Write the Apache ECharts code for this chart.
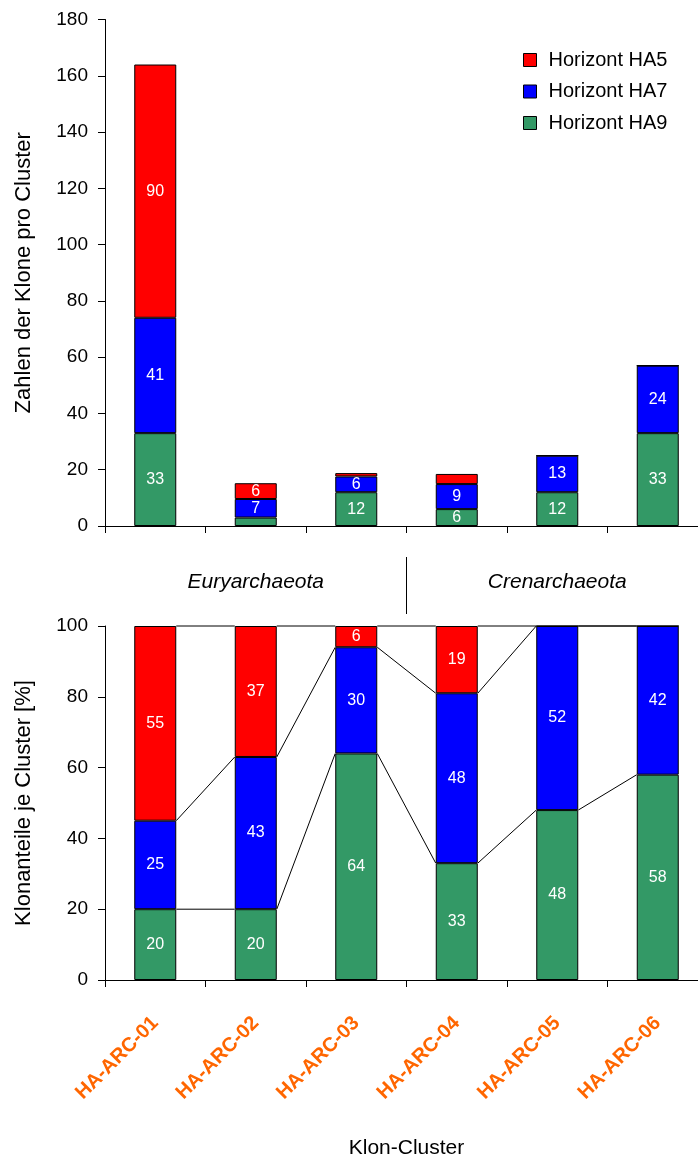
<!DOCTYPE html>
<html>
<head>
<meta charset="utf-8">
<script src="https://cdn.jsdelivr.net/npm/echarts@6/dist/echarts.min.js"></script>
<style>
  html, body { margin: 0; padding: 0; background: #fff; overflow: hidden; }
  /* the last band runs a little past the right edge, as in the original */
  #chart { width: 710px; height: 1162px; }
</style>
</head>
<body>
<div id="chart"></div>
<script>
  // Klon-Cluster
  const clusters = ['HA-ARC-01', 'HA-ARC-02', 'HA-ARC-03', 'HA-ARC-04', 'HA-ARC-05', 'HA-ARC-06']
  // Zahlen der Klone (oben)
  const countHA9 = [33, 3, 12, 6, 12, 33]
  const countHA7 = [41, 6.6, 5.6, 8.9, 13, 24]
  const countHA5 = [90, 5.6, 1.2, 3.6, 0, 0]
  // Klonanteile in % (unten)
  const pctHA9 = [20, 20, 64, 33, 48, 58]
  const pctHA7 = [25, 43, 30, 48, 52, 42]
  const pctHA5 = [55, 37, 6, 19, 0, 0]
  const groups = ['Euryarchaeota', 'Crenarchaeota']

  const FONT = 'Liberation Sans'
  const GREEN = '#339966', BLUE = '#0000ff', RED = '#ff0000'
  const BAR_W = 42

  const myChart = echarts.init(document.getElementById('chart'))

  function barSeries(name, data, color, axis, minLabel) {
    return {
      name: name,
      type: 'bar',
      stack: 'st' + axis,
      xAxisIndex: axis,
      yAxisIndex: axis,
      barWidth: BAR_W,
      data: data,
      itemStyle: { color: color, borderColor: '#000', borderWidth: 1 },
      label: {
        show: true,
        position: 'inside',
        color: '#fff',
        fontFamily: FONT,
        fontSize: 16,
        formatter: p => p.value >= minLabel ? Math.round(p.value) : ''
      }
    }
  }

  // Verbindungslinien zwischen den Säulen (kumulierte Anteile)
  const cumG = pctHA9
  const cumB = pctHA9.map((v, i) => v + pctHA7[i])
  const cumT = cumB.map((v, i) => v + pctHA5[i])
  const linkData = []
  for (let i = 0; i < clusters.length - 1; i++) {
    linkData.push([i, cumG[i], cumG[i + 1], cumB[i], cumB[i + 1], cumT[i], cumT[i + 1]])
  }

  const axisLine = { lineStyle: { color: '#000', width: 1 } }
  const yLabel = { color: '#000', fontFamily: FONT, fontSize: 19, margin: 17 }
  const yName = { color: '#000', fontFamily: FONT, fontSize: 22 }

  const option = {
    animation: false,
    legend: {
      orient: 'vertical',
      left: 523,
      top: 50,
      padding: 0,
      icon: 'rect',
      itemWidth: 13,
      itemHeight: 13,
      itemGap: 11.5,
      data: ['Horizont HA5', 'Horizont HA7', 'Horizont HA9'],
      itemStyle: { borderColor: '#000', borderWidth: 1 },
      textStyle: { color: '#000', fontFamily: FONT, fontSize: 20, padding: [0, 0, 0, 7] }
    },
    grid: [
      { left: 105, top: 19.5, width: 603, height: 506.5 },
      { left: 105, top: 626, width: 603, height: 354 }
    ],
    xAxis: [
      {
        type: 'category', gridIndex: 0, data: clusters,
        axisLine: axisLine,
        axisTick: { show: true, length: 7, lineStyle: { color: '#000' } },
        axisLabel: { show: false }
      },
      {
        type: 'category', gridIndex: 1, data: clusters,
        axisLine: axisLine,
        axisTick: { show: true, length: 7, lineStyle: { color: '#000' } },
        axisLabel: {
          rotate: 45, margin: 40, color: '#ff6600', fontWeight: 'bold',
          fontFamily: FONT, fontSize: 20
        },
        name: 'Klon-Cluster',
        nameLocation: 'middle',
        nameGap: 158,
        nameTextStyle: { color: '#000', fontFamily: FONT, fontSize: 21 }
      }
    ],
    yAxis: [
      {
        type: 'value', gridIndex: 0, min: 0, max: 180, interval: 20,
        axisLine: Object.assign({ show: true }, axisLine),
        axisTick: { show: true, length: 7, lineStyle: { color: '#000' } },
        splitLine: { show: false },
        axisLabel: yLabel,
        name: 'Zahlen der Klone pro Cluster',
        nameLocation: 'middle',
        nameGap: 70,
        nameTextStyle: yName
      },
      {
        type: 'value', gridIndex: 1, min: 0, max: 100, interval: 20,
        axisLine: Object.assign({ show: true }, axisLine),
        axisTick: { show: true, length: 7, lineStyle: { color: '#000' } },
        splitLine: { show: false },
        axisLabel: yLabel,
        name: 'Klonanteile je Cluster [%]',
        nameLocation: 'middle',
        nameGap: 70,
        nameTextStyle: yName
      }
    ],
    series: [
      barSeries('Horizont HA9', countHA9, GREEN, 0, 5),
      barSeries('Horizont HA7', countHA7, BLUE, 0, 5),
      barSeries('Horizont HA5', countHA5, RED, 0, 5),
      barSeries('Horizont HA9', pctHA9, GREEN, 1, 1),
      barSeries('Horizont HA7', pctHA7, BLUE, 1, 1),
      barSeries('Horizont HA5', pctHA5, RED, 1, 1),
      {
        type: 'custom',
        xAxisIndex: 1,
        yAxisIndex: 1,
        z: 5,
        silent: true,
        data: linkData,
        renderItem: (params, api) => {
          const i = api.value(0)
          const half = BAR_W / 2
          const lines = []
          for (let k = 1; k <= 5; k += 2) {
            const a = api.coord([i, api.value(k)])
            const b = api.coord([i + 1, api.value(k + 1)])
            lines.push({
              type: 'line',
              shape: { x1: a[0] + half, y1: a[1], x2: b[0] - half, y2: b[1] },
              style: { stroke: '#000', lineWidth: 1 }
            })
          }
          return { type: 'group', children: lines }
        }
      }
    ]
  }

  myChart.setOption(option)

  // Gruppen-Beschriftung zwischen den Diagrammen
  const px = i => myChart.convertToPixel({ xAxisIndex: 0 }, clusters[i])
  const midY = 582
  const sepX = (px(2) + px(3)) / 2
  const groupText = (text, x) => ({
    type: 'text',
    x: x, y: midY,
    style: {
      text: text, align: 'center', verticalAlign: 'middle',
      fontStyle: 'italic', fontFamily: FONT, fontSize: 21, fill: '#000'
    }
  })
  myChart.setOption({
    graphic: [
      groupText(groups[0], px(1)),
      groupText(groups[1], px(4)),
      {
        type: 'line',
        shape: { x1: sepX, y1: 557, x2: sepX, y2: 614 },
        style: { stroke: '#000', lineWidth: 1 }
      }
    ]
  })
</script>
</body>
</html>
